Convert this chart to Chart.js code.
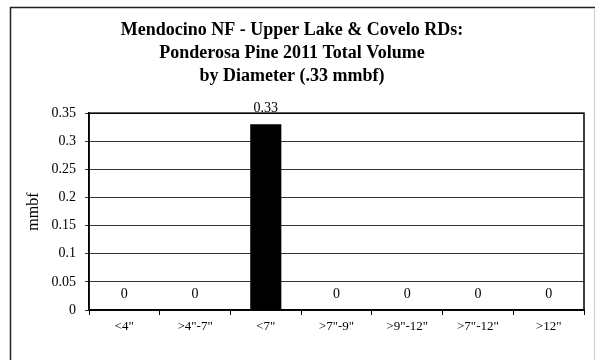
<!DOCTYPE html>
<html>
<head>
<meta charset="utf-8">
<script src="https://cdn.jsdelivr.net/npm/chart.js@4/dist/chart.umd.min.js"></script>
<style>
  body { margin: 0; background: #fff; }
  canvas { display: block; }
</style>
</head>
<body>
<canvas id="myChart" width="595" height="360"></canvas>
<script>
const categories = ['<4"', '>4"-7"', '<7"', '>7"-9"', '>9"-12"', '>7"-12"', '>12"'];
const volumes = [0, 0, 0.33, 0, 0, 0, 0];
const titleLines = ['Mendocino NF - Upper Lake & Covelo RDs:', 'Ponderosa Pine 2011 Total Volume', 'by Diameter (.33 mmbf)'];
const yAxisTitle = 'mmbf';

// frame around the whole chart + box round the plot area
const framePlugin = {
    id: 'frame',
    beforeDraw(chart) {
        const ctx = chart.ctx;
        ctx.save();
        ctx.fillStyle = '#fff';
        ctx.fillRect(0, 0, chart.width, chart.height);
        ctx.strokeStyle = '#222';
        ctx.lineWidth = 1.5;
        ctx.beginPath();
        ctx.moveTo(10.5, chart.height);
        ctx.lineTo(10.5, 7.5);
        ctx.lineTo(chart.width, 7.5);
        ctx.stroke();
        ctx.strokeStyle = '#ccc';
        ctx.lineWidth = 1;
        ctx.beginPath();
        ctx.moveTo(594.5, 8);
        ctx.lineTo(594.5, chart.height);
        ctx.stroke();
        ctx.restore();
    },
    afterDraw(chart) {
        const a = chart.chartArea;
        const ctx = chart.ctx;
        ctx.save();
        ctx.strokeStyle = '#000';
        ctx.lineWidth = 1.5;
        ctx.strokeRect(a.left, a.top, a.right - a.left, a.bottom - a.top);
        ctx.restore();
    }
};

// value labels above each bar
const valueLabels = {
    id: 'valueLabels',
    afterDatasetsDraw(chart) {
        const ctx = chart.ctx;
        const meta = chart.getDatasetMeta(0);
        ctx.save();
        ctx.fillStyle = '#000';
        ctx.font = '14px "Liberation Serif"';
        ctx.textAlign = 'center';
        ctx.textBaseline = 'alphabetic';
        meta.data.forEach(function(bar, i) {
            ctx.fillText(String(volumes[i]), bar.x, bar.y - 12);
        });
        ctx.restore();
    }
};

new Chart('myChart', {
    type: 'bar',
    data: {
        labels: categories,
        datasets: [{
            data: volumes,
            backgroundColor: '#000',
            borderWidth: 0,
            categoryPercentage: 1.0,
            barPercentage: 0.44
        }]
    },
    options: {
        responsive: false,
        animation: false,
        layout: { padding: { top: 0, right: 11, bottom: 0, left: 0 } },
        plugins: {
            legend: { display: false },
            tooltip: { enabled: false },
            title: {
                display: true,
                text: titleLines,
                color: '#000',
                font: { family: 'Liberation Serif', size: 18, weight: 'bold', lineHeight: 1.28 },
                padding: { top: 19, bottom: 25 }
            }
        },
        scales: {
            x: {
                offset: true,
                grid: {
                    offset: true,
                    drawOnChartArea: false,
                    drawTicks: true,
                    tickLength: 5,
                    color: '#000'
                },
                border: { display: true, color: '#000', width: 1.5 },
                ticks: {
                    color: '#000',
                    font: { family: 'Liberation Serif', size: 13 },
                    padding: 4,
                    maxRotation: 0
                },
                afterFit(scale) { scale.height = 50; }
            },
            y: {
                min: 0,
                max: 0.35,
                grid: {
                    color: '#333',
                    lineWidth: 1,
                    tickLength: 4
                },
                border: { display: true, color: '#000', width: 1.5 },
                ticks: {
                    stepSize: 0.05,
                    color: '#000',
                    font: { family: 'Liberation Serif', size: 14 },
                    padding: 9,
                    callback: function(v) { return String(+v.toFixed(2)); }
                },
                title: {
                    display: true,
                    text: yAxisTitle,
                    color: '#000',
                    font: { family: 'Liberation Serif', size: 16 },
                    padding: { top: 24, bottom: 0 }
                },
                afterFit(scale) { scale.width = 89; }
            }
        }
    },
    plugins: [framePlugin, valueLabels]
});
</script>
</body>
</html>
